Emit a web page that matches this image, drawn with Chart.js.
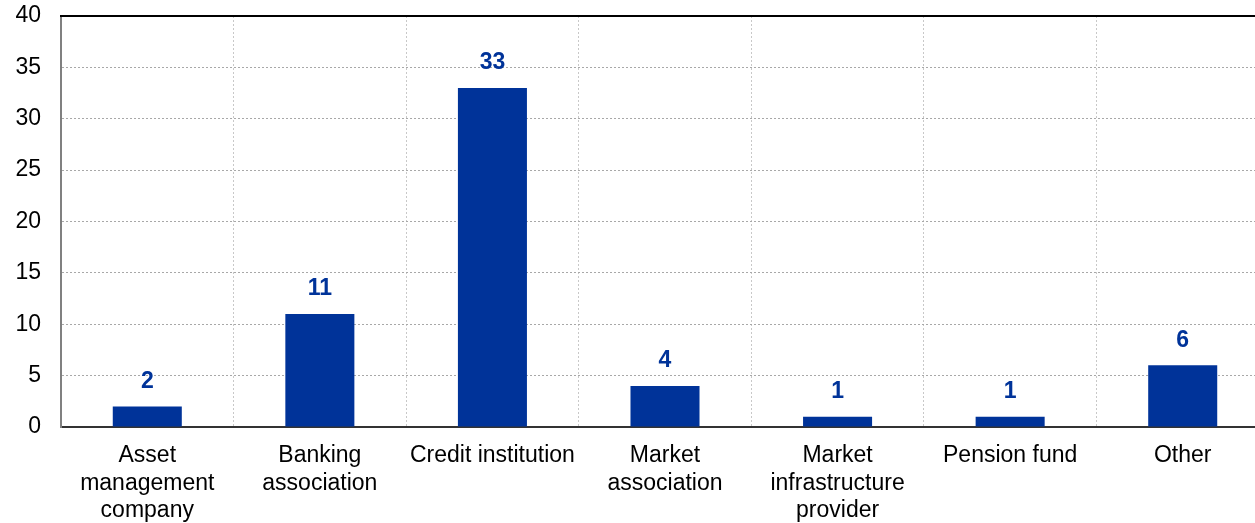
<!DOCTYPE html>
<html>
<head>
<meta charset="utf-8">
<script src="https://cdn.jsdelivr.net/npm/chart.js@4/dist/chart.umd.min.js"></script>
<style>
html,body{margin:0;padding:0;background:#fff;overflow:hidden;width:1255px;height:523px;}
#wrap{width:1269px;height:523px;}
</style>
</head>
<body>
<div id="wrap"><canvas id="c" width="1269" height="523"></canvas></div>
<script>
const categories = [
  ["Asset", "management", "company"],
  ["Banking", "association"],
  ["Credit institution"],
  ["Market", "association"],
  ["Market", "infrastructure", "provider"],
  ["Pension fund"],
  ["Other"]
];
const counts = [2, 11, 33, 4, 1, 1, 6];
const yMin = 0, yMax = 40, yStep = 5;

const FONT = "'Liberation Sans', Arial, sans-serif";
const BLUE = "#003399";

const labelPlugin = {
  id: 'valueLabels',
  afterDatasetsDraw(chart) {
    const ctx = chart.ctx;
    const meta = chart.getDatasetMeta(0);
    ctx.save();
    ctx.fillStyle = BLUE;
    ctx.font = "bold 23px " + FONT;
    ctx.textAlign = "center";
    ctx.textBaseline = "middle";
    meta.data.forEach((bar, i) => {
      ctx.fillText(String(counts[i]), bar.x, bar.y - 25);
    });
    ctx.restore();
  },
  afterDraw(chart) {
    const {ctx, chartArea} = chart;
    ctx.save();
    ctx.strokeStyle = "#000";
    ctx.lineWidth = 2;
    ctx.beginPath();
    ctx.moveTo(chartArea.left - 1, chartArea.top);
    ctx.lineTo(chartArea.right, chartArea.top);
    ctx.stroke();
    ctx.restore();
  }
};

new Chart(document.getElementById('c'), {
  type: 'bar',
  data: {
    labels: categories,
    datasets: [{
      data: counts,
      backgroundColor: BLUE,
      barPercentage: 0.4,
      categoryPercentage: 1.0
    }]
  },
  options: {
    responsive: false,
    animation: false,
    layout: { padding: { top: 16, right: 0, left: 0, bottom: 0 } },
    plugins: { legend: { display: false }, tooltip: { enabled: false } },
    scales: {
      x: {
        grid: { color: "#c8c8c8", lineWidth: 1, drawTicks: false, offset: true },
        border: { display: true, color: "#333", width: 2, dash: [2, 2] },
        ticks: { color: "#000", font: { family: FONT, size: 23 }, padding: 15, maxRotation: 0, autoSkip: false },
        afterFit(scale) { scale.height = 96; scale.paddingLeft = 0; scale.paddingRight = 0; }
      },
      y: {
        min: yMin, max: yMax,
        grid: { color: "#a8a8a8", lineWidth: 1, drawTicks: false },
        border: { display: true, color: "#808080", width: 2, dash: [2, 2] },
        ticks: { stepSize: yStep, color: "#000", font: { family: FONT, size: 23 }, padding: 20 },
        afterFit(scale) { scale.width = 61; scale.paddingTop = 0; scale.paddingBottom = 0; }
      }
    }
  },
  plugins: [labelPlugin]
});
</script>
</body>
</html>
